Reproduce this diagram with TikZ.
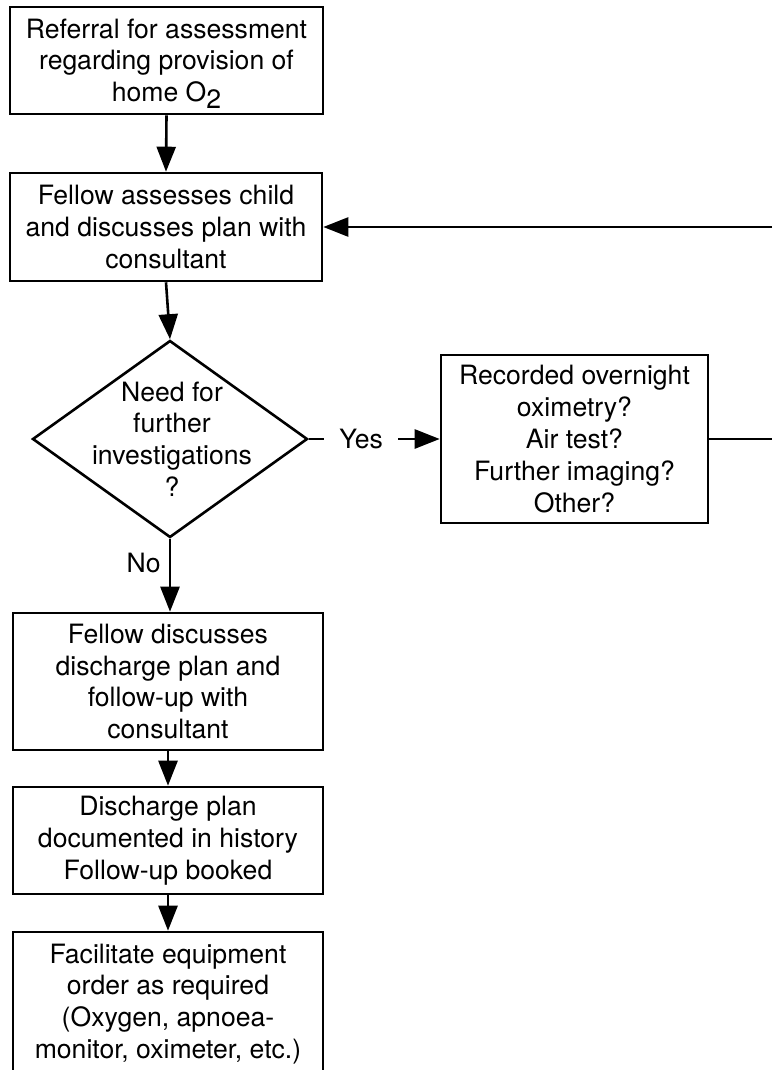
\documentclass[tikz,border=0pt]{standalone}
\usepackage{fontspec}
\setmainfont{TeX Gyre Heros}
\usetikzlibrary{arrows.meta,shapes.geometric}
\begin{document}
\begin{tikzpicture}[x=1pt,y=-1pt,
  txt/.style={align=center, font=\fontsize{26.6}{31.8}\selectfont},
  box/.style={txt, draw, line width=2.6pt, inner sep=0pt},
  conn/.style={line width=2.6pt},
  arr/.style={conn, -{Triangle[length=25pt,width=19pt]}},
]
\clip (0,0) rectangle (772,1070);
\node[box, minimum width=313pt, minimum height=107pt] (b1) at (166.5,60.5)
  {Referral for assessment\\regarding provision of\\home O\raisebox{-7pt}[0pt][0pt]{2}};
\node[box, minimum width=312pt, minimum height=108pt] (b2) at (166,227)
  {Fellow assesses child\\and discusses plan with\\consultant};
\node[draw, diamond, line width=2.6pt, inner sep=0pt, minimum width=275pt, minimum height=197pt] (dia) at (170,439) {};
\node[txt, inner sep=0pt] (diat) at (172,439) {Need for\\further\\investigations\\?};
\node[box, minimum width=267pt, minimum height=168pt] (b3) at (574.5,439)
  {Recorded overnight\\oximetry?\\Air test?\\Further imaging?\\Other?};
\node[box, minimum width=310pt, minimum height=137pt] (b4) at (168,681.5)
  {Fellow discusses\\discharge plan and\\follow-up with\\consultant};
\node[box, minimum width=310pt, minimum height=107pt] (b5) at (168,840.5)
  {Discharge plan\\documented in history\\Follow-up booked};
\node[box, minimum width=310pt, minimum height=144pt] (b6) at (168,1004)
  {Facilitate equipment\\order as required\\(Oxygen, apnoea-\\monitor, oximeter, etc.)};
\coordinate (r1) at (772,439);
\coordinate (r2) at (772,227);

\draw[arr] (b1.south) -- (b2.north);
\draw[arr] (b2.south) -- (dia.north);
\draw[arr] (dia.east) -- node[txt, pos=0.4, fill=white, inner xsep=15pt, inner ysep=2pt] (yes) {Yes} (b3.west);
\draw[arr] (dia.south) -- node[txt, left, inner sep=0pt, xshift=-8pt, pos=0.33] (no) {No} (dia.south |- b4.north);
\draw[conn] (b3.east) -- (r1);
\draw[arr] (r2) -- (b2.east);
\draw[arr] (b4.south) -- (b5.north);
\draw[arr] (b5.south) -- (b6.north);
\end{tikzpicture}
\end{document}
